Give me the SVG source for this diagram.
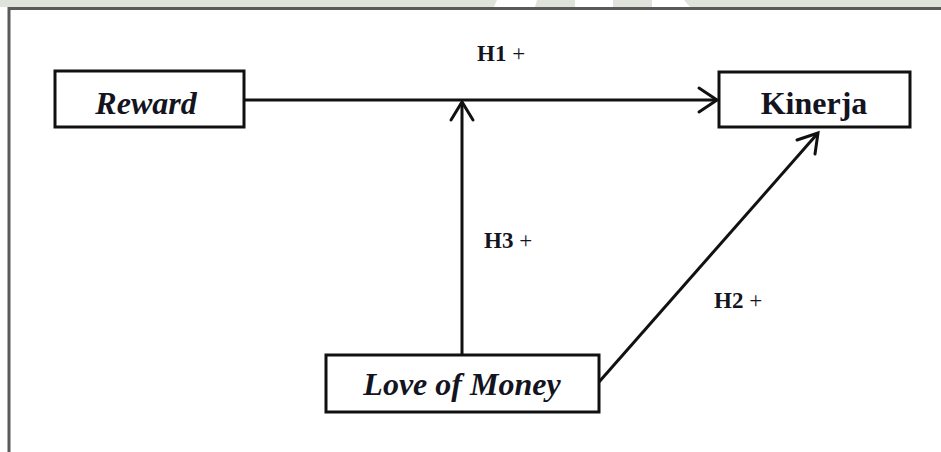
<svg xmlns="http://www.w3.org/2000/svg" width="941" height="452" viewBox="0 0 941 452">
<defs>
<style>
.box{fill:#fff;stroke:#111;stroke-width:3}
.conn{fill:none;stroke:#111;stroke-width:3}
.head{fill:none;stroke:#111;stroke-width:3;stroke-linecap:round;stroke-linejoin:miter}
.node{font-family:"Liberation Serif",serif;font-weight:bold;font-size:32px;fill:#14141f;text-anchor:middle}
.lbl{font-family:"Liberation Serif",serif;font-size:23px;fill:#14141f}
</style>
</defs>
<rect x="0" y="0" width="941" height="452" fill="#fff"/>
<g id="watermark">
<rect x="0" y="0" width="941" height="7" fill="#e0e2dc"/>
<polygon points="497,0 537,0 535,7 494,7" fill="#fff"/>
<polygon points="575,0 613,0 613,7 575,7" fill="#fff"/>
<polygon points="652,0 684,0 690,7 652,7" fill="#fff"/>
</g>
<g id="frame">
<path d="M9,452 V8.5 H941" fill="none" stroke="#5a5a5a" stroke-width="3"/>
</g>
<g id="connectors">
<line class="conn" x1="244" y1="100" x2="717" y2="100"/>
<polyline class="head" points="699,88 717,100 699,112"/>
<line class="conn" x1="462" y1="355" x2="462" y2="102"/>
<polyline class="head" points="451,120 462,102 473,120"/>
<line class="conn" x1="599" y1="382" x2="818" y2="133"/>
<polyline class="head" points="797,140 818,133 815,154"/>
</g>
<g id="labels">
<text class="lbl" x="477" y="61"><tspan font-weight="bold">H1</tspan> +</text>
<text class="lbl" x="484" y="248"><tspan font-weight="bold">H3</tspan> +</text>
<text class="lbl" x="714" y="308"><tspan font-weight="bold">H2</tspan> +</text>
</g>
<g id="reward">
<rect class="box" x="55" y="71" width="189" height="56"/>
<text class="node" x="146" y="114" font-style="italic">Reward</text>
</g>
<g id="kinerja">
<rect class="box" x="719" y="72" width="191" height="55"/>
<text class="node" x="814" y="114">Kinerja</text>
</g>
<g id="love-of-money">
<rect class="box" x="326" y="355" width="273" height="57"/>
<text class="node" x="462" y="395" font-style="italic">Love of Money</text>
</g>
</svg>
